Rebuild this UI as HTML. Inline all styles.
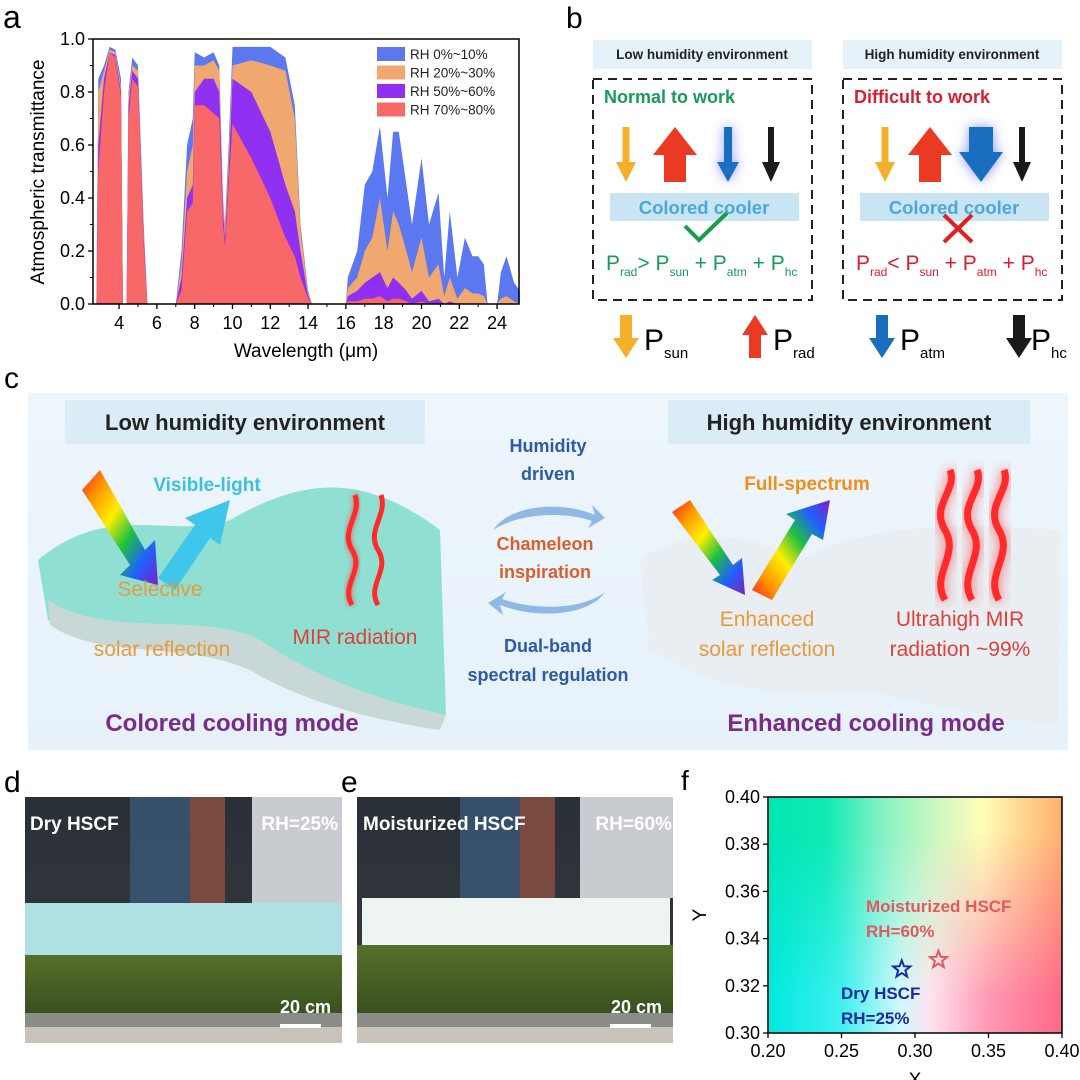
<!DOCTYPE html>
<html><head><meta charset="utf-8">
<style>
html,body{margin:0;padding:0;background:#fff;}
svg{display:block;font-family:"Liberation Sans",Arial,sans-serif;}
.b{font-weight:bold;}
</style></head>
<body>
<svg id="root" width="1080" height="1080" viewBox="0 0 1080 1080" xmlns="http://www.w3.org/2000/svg">
<defs>
  <linearGradient id="rainbow" x1="0" y1="0" x2="1" y2="1">
    <stop offset="0" stop-color="#ff2020"/><stop offset="0.2" stop-color="#ff9a00"/><stop offset="0.4" stop-color="#ffee00"/>
    <stop offset="0.6" stop-color="#20c040"/><stop offset="0.8" stop-color="#2060ff"/><stop offset="1" stop-color="#8020c0"/>
  </linearGradient>
  <linearGradient id="rainbow2" x1="0" y1="1" x2="1" y2="0">
    <stop offset="0" stop-color="#ff2020"/><stop offset="0.2" stop-color="#ff9a00"/><stop offset="0.4" stop-color="#ffee00"/>
    <stop offset="0.6" stop-color="#20c040"/><stop offset="0.8" stop-color="#2060ff"/><stop offset="1" stop-color="#8020c0"/>
  </linearGradient>
  <linearGradient id="cbg" x1="0" y1="0" x2="0" y2="1">
    <stop offset="0" stop-color="#eef6fc"/><stop offset="1" stop-color="#e6f1fa"/>
  </linearGradient>
  <linearGradient id="fTop" x1="0" y1="0" x2="1" y2="0">
    <stop offset="0" stop-color="#00e6b4"/><stop offset="0.2" stop-color="#10eab4"/><stop offset="0.38" stop-color="#80f2c4"/>
    <stop offset="0.6" stop-color="#d8f8c0"/><stop offset="0.73" stop-color="#fffdb8"/><stop offset="0.86" stop-color="#ffd890"/><stop offset="1" stop-color="#ffb070"/>
  </linearGradient>
  <linearGradient id="fBot" x1="0" y1="0" x2="1" y2="0">
    <stop offset="0" stop-color="#00e8e0"/><stop offset="0.25" stop-color="#40f0f0"/><stop offset="0.45" stop-color="#d0f8ff"/>
    <stop offset="0.55" stop-color="#ffe4f0"/><stop offset="0.75" stop-color="#ff98b4"/><stop offset="1" stop-color="#ff6888"/>
  </linearGradient>
  <linearGradient id="fMask" x1="0" y1="0" x2="0" y2="1">
    <stop offset="0.15" stop-color="#fff" stop-opacity="0"/><stop offset="0.85" stop-color="#fff" stop-opacity="1"/>
  </linearGradient>
  <mask id="fm"><rect x="768" y="797" width="294" height="236" fill="url(#fMask)"/></mask>
  <linearGradient id="sky" x1="0" y1="0" x2="0" y2="1">
    <stop offset="0" stop-color="#2a3038"/><stop offset="1" stop-color="#3a3a40"/>
  </linearGradient>
  <linearGradient id="hedge" x1="0" y1="0" x2="0" y2="1">
    <stop offset="0" stop-color="#56702a"/><stop offset="1" stop-color="#3a5020"/>
  </linearGradient>
  <filter id="glow" x="-50%" y="-50%" width="200%" height="200%"><feGaussianBlur stdDeviation="6"/></filter>
  <filter id="glow2" x="-50%" y="-50%" width="200%" height="200%"><feGaussianBlur stdDeviation="3"/></filter>
</defs>

<!-- ================= PANEL A ================= -->
<g id="panelA">
  <text x="3" y="28" font-size="32">a</text>
  <g id="aSeries"></g>
  <rect x="93" y="39" width="426" height="265" fill="none" stroke="#000" stroke-width="1.5"/>
  <g id="aAxes"></g>
  <text transform="translate(44,172) rotate(-90)" text-anchor="middle" font-size="19">Atmospheric transmittance</text>
  <text x="306" y="357" text-anchor="middle" font-size="19">Wavelength (μm)</text>
  <g id="aLegend"></g>
</g>

<!-- ================= PANEL B ================= -->
<g id="panelB">
  <text x="566" y="28" font-size="30">b</text>
  <rect x="593" y="40" width="219" height="29" fill="#e6f2fa"/>
  <text x="702" y="59" text-anchor="middle" font-size="13.5" class="b" fill="#222">Low humidity environment</text>
  <rect x="843" y="40" width="219" height="29" fill="#e6f2fa"/>
  <text x="952" y="59" text-anchor="middle" font-size="13.5" class="b" fill="#222">High humidity environment</text>
  <rect x="593" y="79" width="219" height="221" fill="none" stroke="#222" stroke-width="2" stroke-dasharray="9,6"/>
  <rect x="843" y="79" width="219" height="221" fill="none" stroke="#222" stroke-width="2" stroke-dasharray="9,6"/>
  <text x="604" y="103" font-size="18" class="b" fill="#1a9a5a">Normal to work</text>
  <text x="854" y="103" font-size="18" class="b" fill="#d81e30">Difficult to work</text>
  <g id="bArrows"></g>
  <rect x="610" y="193" width="189" height="28" fill="#c9e5f4"/>
  <text x="704" y="214" text-anchor="middle" font-size="18.5" class="b" fill="#4aa8dc">Colored cooler</text>
  <rect x="860" y="193" width="189" height="28" fill="#c9e5f4"/>
  <text x="954" y="214" text-anchor="middle" font-size="18.5" class="b" fill="#4aa8dc">Colored cooler</text>
  <polyline points="685,226 699,240 727,213" fill="none" stroke="#1a9a4a" stroke-width="4"/>
  <g stroke="#e02020" stroke-width="4"><line x1="944" y1="215" x2="972" y2="242"/><line x1="972" y1="215" x2="944" y2="242"/></g>
  <text x="606" y="270" font-size="21" fill="#1a9a5a">P<tspan font-size="12" dy="6">rad</tspan><tspan dy="-6">&gt; P</tspan><tspan font-size="12" dy="6">sun</tspan><tspan dy="-6"> + P</tspan><tspan font-size="12" dy="6">atm</tspan><tspan dy="-6"> + P</tspan><tspan font-size="12" dy="6">hc</tspan></text>
  <text x="856" y="270" font-size="21" fill="#d81e30">P<tspan font-size="12" dy="6">rad</tspan><tspan dy="-6">&lt; P</tspan><tspan font-size="12" dy="6">sun</tspan><tspan dy="-6"> + P</tspan><tspan font-size="12" dy="6">atm</tspan><tspan dy="-6"> + P</tspan><tspan font-size="12" dy="6">hc</tspan></text>
  <text x="644" y="350" font-size="30">P<tspan font-size="15" dy="8">sun</tspan></text>
  <text x="773" y="350" font-size="30">P<tspan font-size="15" dy="8">rad</tspan></text>
  <text x="900" y="350" font-size="30">P<tspan font-size="15" dy="8">atm</tspan></text>
  <text x="1031" y="350" font-size="30">P<tspan font-size="15" dy="8">hc</tspan></text>
</g>

<!-- ================= PANEL C ================= -->
<g id="panelC">
  <text x="4" y="388" font-size="30">c</text>
  <rect x="28" y="393" width="1040" height="357" fill="url(#cbg)"/>
  <rect x="65" y="400" width="360" height="44" fill="#dcecf7"/>
  <text x="245" y="430" text-anchor="middle" font-size="22" class="b" fill="#222">Low humidity environment</text>
  <rect x="668" y="400" width="362" height="44" fill="#dcecf7"/>
  <text x="849" y="430" text-anchor="middle" font-size="22" class="b" fill="#222">High humidity environment</text>
  <path d="M38,560 C110,500 170,540 230,520 C300,480 360,470 440,530 L446,715 C380,700 320,690 260,650 C200,620 110,650 48,620 Z" fill="#8fe0d2"/>
  <path d="M48,600 C110,640 200,610 260,640 C320,680 380,700 446,715 L440,730 C370,720 300,700 250,670 C180,640 100,660 50,625 Z" fill="#c8d8d6"/>
  <path d="M640,560 C700,520 760,540 800,560 C860,530 930,520 1060,530 L1058,725 C990,720 920,700 860,690 C790,700 720,690 650,650 Z" fill="#e9eef2"/>
  <polygon points="82,490 100,470 145,550 155,540 158,585 120,575 130,565" fill="url(#rainbow)"/>
  <polygon points="158,578 195,525 185,518 230,500 220,545 210,538 175,590" fill="#40c6ea"/>
  <text x="207" y="491" text-anchor="middle" font-size="19" class="b" fill="#3cc0e2">Visible-light</text>
  <g fill="none" stroke="#ff2a2a" stroke-width="5">
    <path d="M352,605 C340,585 365,570 352,550 C340,530 362,515 355,495" filter="url(#glow2)" opacity="0.7"/>
    <path d="M352,605 C340,585 365,570 352,550 C340,530 362,515 355,495"/>
    <path d="M378,605 C366,585 391,570 378,550 C366,530 388,515 381,495"/>
  </g>
  <text x="160" y="596" text-anchor="middle" font-size="21" fill="#e89a3a">Selective</text>
  <text x="162" y="656" text-anchor="middle" font-size="21" fill="#e89a3a">solar reflection</text>
  <text x="355" y="644" text-anchor="middle" font-size="21" fill="#e0403a">MIR radiation</text>
  <text x="232" y="731" text-anchor="middle" font-size="24" class="b" fill="#7a2a8a">Colored cooling mode</text>
  <text x="548" y="452" text-anchor="middle" font-size="18" class="b" fill="#2a5aa8">Humidity</text>
  <text x="548" y="480" text-anchor="middle" font-size="18" class="b" fill="#2a5aa8">driven</text>
  <path d="M493,530 C510,505 560,500 595,515 L592,505 L605,518 L588,528 L592,521 C560,510 515,515 493,530 Z" fill="#8fb8e6"/>
  <text x="545" y="550" text-anchor="middle" font-size="18" class="b" fill="#d9602a">Chameleon</text>
  <text x="545" y="578" text-anchor="middle" font-size="18" class="b" fill="#d9602a">inspiration</text>
  <path d="M605,592 C590,615 540,620 500,605 L503,615 L488,603 L506,592 L502,599 C540,612 585,608 605,592 Z" fill="#8fb8e6"/>
  <text x="548" y="652" text-anchor="middle" font-size="18" class="b" fill="#2a5aa8">Dual-band</text>
  <text x="548" y="681" text-anchor="middle" font-size="18" class="b" fill="#2a5aa8">spectral regulation</text>
  <text x="807" y="490" text-anchor="middle" font-size="19" class="b" fill="#f0901a">Full-spectrum</text>
  <polygon points="672,512 690,500 733,565 742,558 745,595 712,580 720,575" fill="url(#rainbow)"/>
  <polygon points="752,590 795,520 786,514 830,500 823,540 812,534 772,600" fill="url(#rainbow2)"/>
  <g fill="none" stroke="#ff2a2a" stroke-width="7">
    <path d="M945,600 C930,575 960,555 945,530 C930,505 958,490 950,470" filter="url(#glow)" opacity="0.8"/>
    <path d="M972,600 C957,575 987,555 972,530 C957,505 985,490 977,470" filter="url(#glow)" opacity="0.8"/>
    <path d="M999,600 C984,575 1014,555 999,530 C984,505 1012,490 1004,470" filter="url(#glow)" opacity="0.8"/>
    <path d="M945,600 C930,575 960,555 945,530 C930,505 958,490 950,470"/>
    <path d="M972,600 C957,575 987,555 972,530 C957,505 985,490 977,470"/>
    <path d="M999,600 C984,575 1014,555 999,530 C984,505 1012,490 1004,470"/>
  </g>
  <text x="767" y="626" text-anchor="middle" font-size="21" fill="#e89a3a">Enhanced</text>
  <text x="767" y="656" text-anchor="middle" font-size="21" fill="#e89a3a">solar reflection</text>
  <text x="960" y="626" text-anchor="middle" font-size="21" fill="#e0403a">Ultrahigh MIR</text>
  <text x="960" y="656" text-anchor="middle" font-size="21" fill="#e0403a">radiation ~99%</text>
  <text x="866" y="731" text-anchor="middle" font-size="24" class="b" fill="#7a2a8a">Enhanced cooling mode</text>
</g>

<!-- ================= PANELS D, E ================= -->
<g id="panelD">
  <text x="4" y="792" font-size="30">d</text>
  <rect x="25" y="797" width="317" height="246" fill="url(#sky)"/>
  <rect x="130" y="797" width="60" height="106" fill="#3a5878" opacity="0.8"/>
  <rect x="190" y="797" width="35" height="106" fill="#7a4a40"/>
  <rect x="252" y="797" width="90" height="106" fill="#c8ccd0"/>
  <rect x="25" y="903" width="317" height="52" fill="#aee0e4"/>
  <rect x="25" y="955" width="317" height="58" fill="url(#hedge)"/>
  <rect x="25" y="1013" width="317" height="14" fill="#8a8c88"/>
  <rect x="25" y="1027" width="317" height="16" fill="#c8c2b8"/>
  <text x="30" y="830" font-size="19" class="b" fill="#fff">Dry HSCF</text>
  <text x="338" y="830" text-anchor="end" font-size="19" class="b" fill="#fff">RH=25%</text>
  <text x="331" y="1013" text-anchor="end" font-size="18" class="b" fill="#fff">20 cm</text>
  <rect x="280" y="1024" width="41" height="4" fill="#fff"/>
</g>
<g id="panelE">
  <text x="341" y="792" font-size="30">e</text>
  <rect x="357" y="797" width="316" height="246" fill="url(#sky)"/>
  <rect x="460" y="797" width="60" height="101" fill="#3a5878" opacity="0.8"/>
  <rect x="520" y="797" width="35" height="101" fill="#7a4a40"/>
  <rect x="580" y="797" width="93" height="101" fill="#c8ccd0"/>
  <rect x="362" y="898" width="308" height="47" fill="#eef4f2"/>
  <rect x="357" y="945" width="316" height="68" fill="url(#hedge)"/>
  <rect x="357" y="1013" width="316" height="14" fill="#8a8c88"/>
  <rect x="357" y="1027" width="316" height="16" fill="#c8c2b8"/>
  <text x="363" y="830" font-size="19" class="b" fill="#fff">Moisturized HSCF</text>
  <text x="672" y="830" text-anchor="end" font-size="19" class="b" fill="#fff">RH=60%</text>
  <text x="662" y="1013" text-anchor="end" font-size="18" class="b" fill="#fff">20 cm</text>
  <rect x="610" y="1024" width="41" height="4" fill="#fff"/>
</g>

<!-- ================= PANEL F ================= -->
<g id="panelF">
  <text x="681" y="790" font-size="28">f</text>
  <rect x="768" y="797" width="294" height="236" fill="url(#fTop)"/>
  <rect x="768" y="797" width="294" height="236" fill="url(#fBot)" mask="url(#fm)"/>
  <rect x="768" y="797" width="294" height="236" fill="none" stroke="#000" stroke-width="1.5"/>
  <g id="fAxes"></g>
  <g id="fPoints"></g>
  <text x="866" y="912" font-size="17" class="b" fill="#e05a60">Moisturized HSCF</text>
  <text x="866" y="937" font-size="17" class="b" fill="#e05a60">RH=60%</text>
  <text x="841" y="999" font-size="17" class="b" fill="#1a2aa0">Dry HSCF</text>
  <text x="841" y="1024" font-size="17" class="b" fill="#1a2aa0">RH=25%</text>
  <text transform="translate(706,915) rotate(-90)" text-anchor="middle" font-size="19">Y</text>
  <text x="915" y="1086" text-anchor="middle" font-size="19">X</text>
</g>
</svg>

<script>
var wavelengths = [2.8,2.9,3.2,3.5,3.8,4.1,4.2,4.4,4.5,4.7,5.0,5.3,5.5,7.0,7.3,7.6,7.9,8.0,8.5,9.0,9.3,9.5,9.6,9.8,10.0,11,12,12.8,13.3,13.6,14.0,14.2,16.0,16.1,16.6,17,17.4,17.8,18.2,18.5,18.8,19.2,19.5,20,20.4,20.9,21.2,21.5,21.9,22.3,22.7,23.0,23.3,23.5,24.0,24.2,24.5,24.9,25.2];
var rh0_10  = [0,0.85,0.9,0.97,0.96,0.85,0,0,0.8,0.93,0.9,0.3,0,0,0.2,0.6,0.7,0.95,0.93,0.95,0.9,0.4,0.3,0.6,0.97,0.97,0.97,0.93,0.75,0.3,0.05,0,0,0.1,0.2,0.45,0.5,0.67,0.4,0.65,0.65,0.45,0.3,0.55,0.3,0.42,0.1,0.35,0.1,0.25,0.18,0.18,0.15,0,0,0.12,0.18,0.08,0.05];
var rh20_30 = [0,0.8,0.88,0.96,0.95,0.82,0,0,0.78,0.9,0.88,0.28,0,0,0.15,0.5,0.6,0.9,0.9,0.92,0.88,0.38,0.28,0.55,0.9,0.92,0.9,0.88,0.7,0.28,0.04,0,0,0.06,0.1,0.2,0.25,0.4,0.2,0.35,0.3,0.2,0.12,0.25,0.1,0.15,0.03,0.1,0.02,0.06,0.04,0.04,0.03,0,0,0.02,0.03,0.01,0];
var rh50_60 = [0,0.6,0.85,0.95,0.94,0.8,0,0,0.75,0.88,0.85,0.25,0,0,0.1,0.4,0.45,0.8,0.85,0.85,0.8,0.35,0.25,0.5,0.85,0.8,0.65,0.45,0.35,0.2,0.03,0,0,0.03,0.05,0.08,0.1,0.12,0.06,0.1,0.08,0.05,0.02,0.05,0.01,0.02,0,0.01,0,0,0,0,0,0,0,0,0,0,0];
var rh70_80 = [0,0.5,0.8,0.95,0.93,0.78,0,0,0.7,0.85,0.82,0.22,0,0,0.05,0.35,0.38,0.75,0.75,0.72,0.7,0.3,0.22,0.45,0.68,0.55,0.4,0.25,0.18,0.1,0.02,0,0,0.01,0.01,0.02,0.02,0.03,0.01,0.02,0.02,0.01,0,0.01,0,0,0,0,0,0,0,0,0,0,0];
var seriesNames = ["RH 0%~10%","RH 20%~30%","RH 50%~60%","RH 70%~80%"];
var seriesColors = ["#5b78f0","#f0a870","#9030f0","#f86868"];
var xTicksA = [4,6,8,10,12,14,16,18,20,22,24];
var yTicksA = [0.0,0.2,0.4,0.6,0.8,1.0];

var fXTicks = [0.20,0.25,0.30,0.35,0.40];
var fYTicks = [0.30,0.32,0.34,0.36,0.38,0.40];
var pointNames = ["dry-hscf-point","moisturized-hscf-point"];
var pointX = [0.291,0.316];
var pointY = [0.327,0.331];
var pointColors = ["#1a2aa0","#e05a60"];

var NS = "http://www.w3.org/2000/svg";
function mk(tag, attrs, parent){ var e=document.createElementNS(NS,tag); for(var k in attrs) e.setAttribute(k,attrs[k]); parent.appendChild(e); return e; }

var AX0=93, AX1=519, AY0=304, AY1=39, WMIN=2.62, WMAX=25.16;
function xa(w){ return AX0 + (w-WMIN)/(WMAX-WMIN)*(AX1-AX0); }
function ya(v){ return AY0 - v*(AY0-AY1); }

var aSeries=document.getElementById('aSeries');
var allSeries=[rh0_10,rh20_30,rh50_60,rh70_80];
for (var s=0;s<allSeries.length;s++){
  var d="M"+xa(wavelengths[0])+","+ya(0);
  for (var i=0;i<wavelengths.length;i++) d+=" L"+xa(wavelengths[i]).toFixed(1)+","+ya(allSeries[s][i]).toFixed(1);
  d+=" L"+xa(wavelengths[wavelengths.length-1])+","+ya(0)+" Z";
  var p=mk('path',{d:d,fill:seriesColors[s]},aSeries);
  
  
}
var aAxes=document.getElementById('aAxes');
for (var i=0;i<xTicksA.length;i++){
  var x=xa(xTicksA[i]);
  mk('line',{x1:x,y1:AY0,x2:x,y2:AY0+5,stroke:'#000','stroke-width':1.3},aAxes);
  var t=mk('text',{x:x,y:AY0+25,'text-anchor':'middle','font-size':18},aAxes);
  t.textContent=xTicksA[i];
  
  
  if (i<xTicksA.length-1){ var xm=xa(xTicksA[i]+1); mk('line',{x1:xm,y1:AY0,x2:xm,y2:AY0+3,stroke:'#000','stroke-width':1},aAxes); }
}
for (var i=0;i<yTicksA.length;i++){
  var y=ya(yTicksA[i]);
  mk('line',{x1:AX0-5,y1:y,x2:AX0,y2:y,stroke:'#000','stroke-width':1.3},aAxes);
  var t=mk('text',{x:AX0-8,y:y+6,'text-anchor':'end','font-size':18},aAxes);
  t.textContent=yTicksA[i].toFixed(1);
  
  
  if (i<yTicksA.length-1){ var ym=ya(yTicksA[i]+0.1); mk('line',{x1:AX0-3,y1:ym,x2:AX0,y2:ym,stroke:'#000','stroke-width':1},aAxes); }
}
var aLeg=document.getElementById('aLegend');
for (var s=0;s<seriesNames.length;s++){
  var ly=47+s*18.5;
  var r=mk('rect',{x:377,y:ly,width:28,height:14,fill:seriesColors[s]},aLeg);
  
  
  var t=mk('text',{x:410,y:ly+12,'font-size':13.5,fill:'#222'},aLeg);
  t.textContent=seriesNames[s];
  
  
}

var bA=document.getElementById('bArrows');
function arrow(cx,y0,y1,sw,hw,hh,color,dir,name,glow){
  var pts;
  if(dir==='down') pts=[[cx-sw/2,y0],[cx+sw/2,y0],[cx+sw/2,y1-hh],[cx+hw/2,y1-hh],[cx,y1],[cx-hw/2,y1-hh],[cx-sw/2,y1-hh]];
  else pts=[[cx-sw/2,y1],[cx+sw/2,y1],[cx+sw/2,y0+hh],[cx+hw/2,y0+hh],[cx,y0],[cx-hw/2,y0+hh],[cx-sw/2,y0+hh]];
  var s=pts.map(function(p){return p[0]+','+p[1];}).join(' ');
  if(glow){ var g=mk('polygon',{points:s,fill:'#6a7aff',filter:'url(#glow)',opacity:0.8},bA);
    
     }
  var e=mk('polygon',{points:s,fill:color},bA);
  
  
}
arrow(626,127,182,7,20,20,'#f4b02a','down','p-sun-arrow-low');
arrow(675,127,182,22,44,28,'#ea3a24','up','p-rad-arrow-low');
arrow(728,127,182,8,22,20,'#1a6ec0','down','p-atm-arrow-low',true);
arrow(771,127,182,6,18,20,'#1a1a1a','down','p-hc-arrow-low');
arrow(885,127,182,7,20,20,'#f4b02a','down','p-sun-arrow-high');
arrow(930,127,182,22,44,28,'#ea3a24','up','p-rad-arrow-high');
arrow(981,127,182,24,44,30,'#1a6ec0','down','p-atm-arrow-high',true);
arrow(1022,127,182,6,18,20,'#1a1a1a','down','p-hc-arrow-high');
arrow(626,315,358,12,26,20,'#f4b02a','down','legend-sun-arrow');
arrow(755,315,358,12,26,20,'#ea3a24','up','legend-rad-arrow');
arrow(882,315,358,12,26,20,'#1a6ec0','down','legend-atm-arrow');
arrow(1019,315,358,12,26,20,'#1a1a1a','down','legend-hc-arrow');

var FX0=768, FX1=1062, FY0=1033, FY1=797;
function xf(v){ return FX0+(v-0.20)/0.20*(FX1-FX0); }
function yf(v){ return FY0-(v-0.30)/0.10*(FY0-FY1); }
var fAx=document.getElementById('fAxes');
for (var i=0;i<fXTicks.length;i++){
  var x=xf(fXTicks[i]);
  mk('line',{x1:x,y1:FY0,x2:x,y2:FY0+5,stroke:'#000','stroke-width':1.3},fAx);
  var t=mk('text',{x:x,y:FY0+24,'text-anchor':'middle','font-size':18},fAx);
  t.textContent=fXTicks[i].toFixed(2);
  
  
}
for (var i=0;i<fYTicks.length;i++){
  var y=yf(fYTicks[i]);
  mk('line',{x1:FX0-5,y1:y,x2:FX0,y2:y,stroke:'#000','stroke-width':1.3},fAx);
  var t=mk('text',{x:FX0-8,y:y+6,'text-anchor':'end','font-size':18},fAx);
  t.textContent=fYTicks[i].toFixed(2);
  
  
}
var fP=document.getElementById('fPoints');
function star(cx,cy,R){ var r=R*0.42, pts=[]; for(var k=0;k<10;k++){ var a=-Math.PI/2+k*Math.PI/5, rr=(k%2?r:R); pts.push((cx+rr*Math.cos(a)).toFixed(1)+','+(cy+rr*Math.sin(a)).toFixed(1)); } return pts.join(' '); }
for (var i=0;i<pointX.length;i++){
  var e=mk('polygon',{points:star(xf(pointX[i]),yf(pointY[i]),9),fill:'none',stroke:pointColors[i],'stroke-width':2},fP);
  
  
}
</script>
</body></html>
